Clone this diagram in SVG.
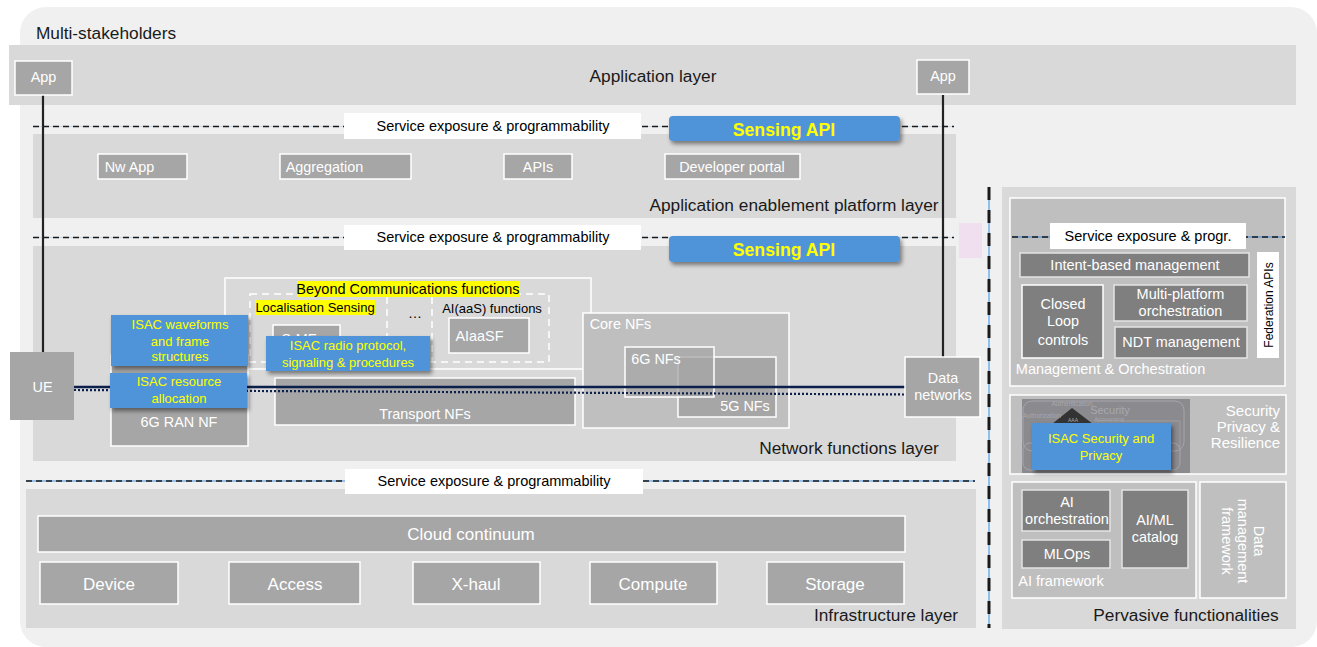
<svg xmlns="http://www.w3.org/2000/svg" width="1317" height="647" viewBox="0 0 1317 647">
<defs>
<filter id="sh" x="-10%" y="-20%" width="125%" height="150%"><feDropShadow dx="2" dy="3" stdDeviation="2" flood-color="#000" flood-opacity="0.45"/></filter>
</defs>
<style>
text{font-family:"Liberation Sans",Arial,sans-serif;font-size:14.4px;text-anchor:middle}
.layer{fill:#d9d9d9}
.b{fill:#a6a6a6;stroke:#fff;stroke-width:1.5}
.d{fill:#7f7f7f;stroke:#e4e4e4;stroke-width:1.5}
.m{fill:#bfbfbf;stroke:#fff;stroke-width:1.5}
.w{fill:#fff}
.t{fill:#fff}
.big{font-size:17px}
.s{fill:#000;font-size:14.5px}
.l{font-size:17.3px;fill:#1a1a1a}
.isac{fill:#4f94d8;filter:url(#sh)}
.y{fill:#ffff00;font-size:13px}
.api{fill:#ffff00;font-weight:bold;font-size:17.7px}
.hl{fill:#ffff00}
.faint{fill:none;stroke:#6aa8e6;stroke-width:1;opacity:0.3}
.blue{fill:none;stroke:#3a8fe0;stroke-width:1}
.dash{fill:none;stroke:#1a1a1a;stroke-width:1.5;stroke-dasharray:6 4}
.wd{fill:none;stroke:#fff;stroke-width:1.5;stroke-dasharray:7 5}
.sm{fill:#a8a8ae}
</style>
<rect x="20" y="7" width="1297" height="640" rx="26" fill="#f0f0f0"/>
<rect class="layer" x="9" y="45" width="1287" height="60"/>
<rect class="layer" x="33" y="134" width="923" height="84"/>
<rect class="layer" x="33" y="246" width="923" height="215"/>
<rect class="layer" x="26" y="489" width="950" height="139"/>
<rect class="layer" x="1002" y="187" width="294" height="442"/>
<rect x="959" y="223" width="23" height="35" fill="#f0dfee"/>
<text x="106" y="39" class="l">Multi-stakeholders</text>
<text x="653" y="82" class="l">Application layer</text>
<text x="794" y="211" class="l">Application enablement platform layer</text>
<text x="849" y="454" class="l">Network functions layer</text>
<text x="886" y="621" class="l">Infrastructure layer</text>
<text x="1186" y="621" class="l">Pervasive functionalities</text>

<g id="beyond"><rect x="225" y="278" width="366" height="91" fill="none" stroke="#fff" stroke-width="1.5"/>
<rect x="250" y="294" width="299" height="68" class="wd"/>
<path d="M387 297V362M432 297V362" class="wd"/>
<rect x="297" y="281" width="223" height="16" class="hl"/><text x="408" y="294" fill="#000" style="font-size:14.5px">Beyond Communications functions</text>
<rect x="255" y="300" width="120" height="15" class="hl"/><text x="315" y="312" fill="#000" style="font-size:13px">Localisation Sensing</text>
<text x="415" y="318" fill="#000" style="font-size:14px">…</text>
<text x="492" y="313" fill="#000" style="font-size:13px">AI(aaS) functions</text></g>
<g id="core-nfs"><rect class="m" x="583" y="313" width="206" height="115"/><text x="620.5" y="329" class="t">Core NFs</text></g>
<g id="smf"><rect class="b" x="273" y="325" width="67" height="30"/><text x="299" y="344" class="t">S-MF</text></g>
<g id="aiaasf"><rect class="b" x="449" y="318" width="80" height="35"/><text x="479.5" y="341" class="t">AIaaSF</text></g>
<g id="ran"><rect class="b" x="111" y="355" width="137" height="91"/><text x="179" y="427" class="t">6G RAN NF</text></g>
<g id="transport"><rect class="b" x="275" y="378" width="300" height="47"/><text x="425" y="419" class="t">Transport NFs</text></g>
<g id="nf5"><rect class="b" x="678" y="357" width="98" height="60"/><text x="745" y="411" class="t">5G NFs</text></g>
<g id="nf6"><rect x="625" y="347" width="89" height="50" fill="#a6a6a6" fill-opacity="0.75" stroke="#fff" stroke-width="1.5"/><text x="656" y="364" class="t">6G NFs</text></g>

<g id="connectors">
<path d="M43 95V352M943 95V357" stroke="#222" stroke-width="2.2" fill="none"/>
<path d="M74 387H905" stroke="#0b1f4b" stroke-width="2.4" fill="none"/>
<path d="M74 390L905 394.5" stroke="#0b1f4b" stroke-width="2.2" stroke-dasharray="2 2" fill="none"/>
<path d="M33 126.5H344M642 126.5H954M33 237.5H344M642 237.5H954" class="faint"/>
<path d="M33 126.5H344M642 126.5H954M33 237.5H344M642 237.5H954" class="dash"/>
<path d="M26 481H345M643 481H975" class="blue"/>
<path d="M26 481H345M643 481H975" class="dash"/>
<path d="M989 187V628" stroke="#2f8fe8" stroke-width="1" fill="none"/>
<path d="M989 187V628" stroke="#1a1a1a" stroke-width="3" stroke-dasharray="13 10" fill="none"/>
</g>

<g id="app1"><rect class="b" x="15" y="61" width="57" height="34"/><text x="43.5" y="82" class="t">App</text></g>
<g id="app2"><rect class="b" x="917" y="60" width="52" height="34"/><text x="943" y="81" class="t">App</text></g>
<g id="ue"><rect x="10" y="352" width="64" height="68" fill="#a6a6a6"/><text x="42.5" y="392" class="t">UE</text></g>
<g id="data"><rect class="b" x="905" y="357" width="75" height="60"/><text x="943" y="383" class="t">Data</text><text x="943" y="400" class="t">networks</text></g>

<g id="sea1"><rect class="w" x="344" y="113" width="297" height="26"/><text x="493" y="131" class="s">Service exposure &amp; programmability</text></g>
<g id="sea2"><rect class="w" x="344" y="225" width="297" height="25"/><text x="493" y="242" class="s">Service exposure &amp; programmability</text></g>
<g id="sea3"><rect class="w" x="345" y="469" width="298" height="25"/><text x="494" y="486" class="s">Service exposure &amp; programmability</text></g>
<g id="api1"><rect class="isac" x="669" y="116" width="231" height="25" rx="4"/><text x="784" y="136" class="api">Sensing API</text></g>
<g id="api2"><rect class="isac" x="669" y="236" width="231" height="26" rx="4"/><text x="784" y="256" class="api">Sensing API</text></g>

<g id="nwapp"><rect class="b" x="98" y="154" width="89" height="25"/><text x="129.5" y="172" class="t" >Nw App</text></g>
<g id="agg"><rect class="b" x="280" y="154" width="131" height="25"/><text x="324.5" y="172" class="t">Aggregation</text></g>
<g id="apis"><rect class="b" x="504" y="154" width="68" height="25"/><text x="538" y="172" class="t">APIs</text></g>
<g id="dev"><rect class="b" x="665" y="154" width="135" height="25"/><text x="732" y="172" class="t">Developer portal</text></g>

<g id="isac-wave"><rect class="isac" x="111" y="315" width="137" height="51"/><text x="180" y="329" class="y">ISAC waveforms</text><text x="180" y="346" class="y">and frame</text><text x="180" y="361" class="y">structures</text></g>
<g id="isac-res"><rect class="isac" x="110" y="373" width="137" height="35"/><text x="179" y="386" class="y">ISAC resource</text><text x="179" y="403" class="y">allocation</text></g>
<g id="isac-radio"><rect class="isac" x="266" y="336" width="164" height="35"/><text x="348" y="350" class="y">ISAC radio protocol,</text><text x="348" y="367" class="y">signaling &amp; procedures</text></g>

<g id="infra">
<g id="cloud"><rect class="b" x="38" y="516" width="867" height="36"/><text x="471" y="540" class="t big">Cloud continuum</text></g>
<g id="device"><rect class="b" x="40" y="562" width="138" height="42"/><text x="109" y="590" class="t big">Device</text></g>
<g id="access"><rect class="b" x="229" y="562" width="131" height="42"/><text x="295" y="590" class="t big">Access</text></g>
<g id="xhaul"><rect class="b" x="413" y="562" width="127" height="42"/><text x="476" y="590" class="t big">X-haul</text></g>
<g id="compute"><rect class="b" x="590" y="562" width="127" height="42"/><text x="653" y="590" class="t big">Compute</text></g>
<g id="storage"><rect class="b" x="767" y="562" width="137" height="42"/><text x="835" y="590" class="t big">Storage</text></g>
</g>

<g id="mano"><rect class="m" x="1010" y="198" width="275" height="188"/><text x="1110.5" y="374" class="t" style="font-size:14.5px">Management &amp; Orchestration</text></g>
<path d="M1012 237H1285" class="blue"/>
<path d="M1012 237H1285" class="dash"/>
<g id="sep"><rect class="w" x="1050" y="223" width="196" height="26"/><text x="1148" y="241" class="s">Service exposure &amp; progr.</text></g>
<g id="intent"><rect class="d" x="1020" y="253" width="229" height="24"/><text x="1135" y="270" class="t" style="font-size:14.5px">Intent-based management</text></g>
<g id="fed"><rect class="w" x="1257" y="252" width="22" height="106"/><text transform="translate(1273 305) rotate(-90)" fill="#000" style="font-size:12px">Federation APIs</text></g>
<g id="closed"><rect class="d" x="1022" y="285" width="81" height="73" style="stroke:#fff"/><text x="1063" y="309" class="t">Closed</text><text x="1063" y="326" class="t">Loop</text><text x="1063" y="345" class="t">controls</text></g>
<g id="multi"><rect class="d" x="1114" y="285" width="133" height="36"/><text x="1180.5" y="299" class="t" style="font-size:14.5px">Multi-platform</text><text x="1180.5" y="316" class="t" style="font-size:14.5px">orchestration</text></g>
<g id="ndt"><rect class="d" x="1115" y="327" width="132" height="31"/><text x="1181" y="347" class="t">NDT management</text></g>

<g id="sec"><rect class="m" x="1010" y="395" width="276" height="79"/>
<rect x="1022" y="399" width="168" height="74" fill="#8a8a8f"/>
<rect x="1023" y="401" width="161" height="50" rx="9" fill="none" stroke="#a5a5ab"/>
<rect x="1023" y="443" width="157" height="27" rx="7" fill="none" stroke="#a5a5ab"/>
<path d="M1095 421H1180V450" fill="none" stroke="#a5a5ab" stroke-width="0.7"/>
<polygon points="1072,408 1052,424 1093,424" fill="#333"/>
<text x="1110" y="414" class="sm" style="font-size:11px">Security</text>
<text x="1072" y="406" class="sm" style="font-size:6.5px">Authentication</text>
<text x="1042" y="418" class="sm" style="font-size:6.5px">Authorization</text>
<text x="1073" y="422" class="sm" style="font-size:5px">AAA</text>
<text x="1109" y="421" class="sm" style="font-size:6px">Accounting</text>
<text x="1280" y="416" class="t" style="font-size:15px;text-anchor:end">Security</text><text x="1280" y="432" class="t" style="font-size:15px;text-anchor:end">Privacy &amp;</text><text x="1280" y="448" class="t" style="font-size:15px;text-anchor:end">Resilience</text></g>
<g id="isac-sec"><rect class="isac" x="1032" y="423" width="139" height="47"/><text x="1101" y="443" class="y">ISAC Security and</text><text x="1101" y="460" class="y">Privacy</text></g>

<g id="aifw"><rect class="m" x="1012" y="482" width="184" height="116"/><text x="1061" y="586" class="t" style="font-size:14.5px">AI framework</text></g>
<g id="aiorch"><rect class="d" x="1022" y="490" width="88" height="41"/><text x="1067" y="507" class="t" style="font-size:14.5px">AI</text><text x="1067" y="524" class="t" style="font-size:14.5px">orchestration</text></g>
<g id="mlops"><rect class="d" x="1022" y="540" width="88" height="28"/><text x="1067" y="559" class="t">MLOps</text></g>
<g id="catalog"><rect class="d" x="1122" y="490" width="66" height="78"/><text x="1155" y="525" class="t">AI/ML</text><text x="1155" y="542" class="t">catalog</text></g>
<g id="datamgmt"><rect class="m" x="1200" y="482" width="86" height="116"/><text transform="translate(1254 541) rotate(90)" class="t" style="font-size:14.5px">Data</text><text transform="translate(1238 541) rotate(90)" class="t" style="font-size:14.5px">management</text><text transform="translate(1222 541) rotate(90)" class="t" style="font-size:14.5px">framework</text></g>
</svg>
